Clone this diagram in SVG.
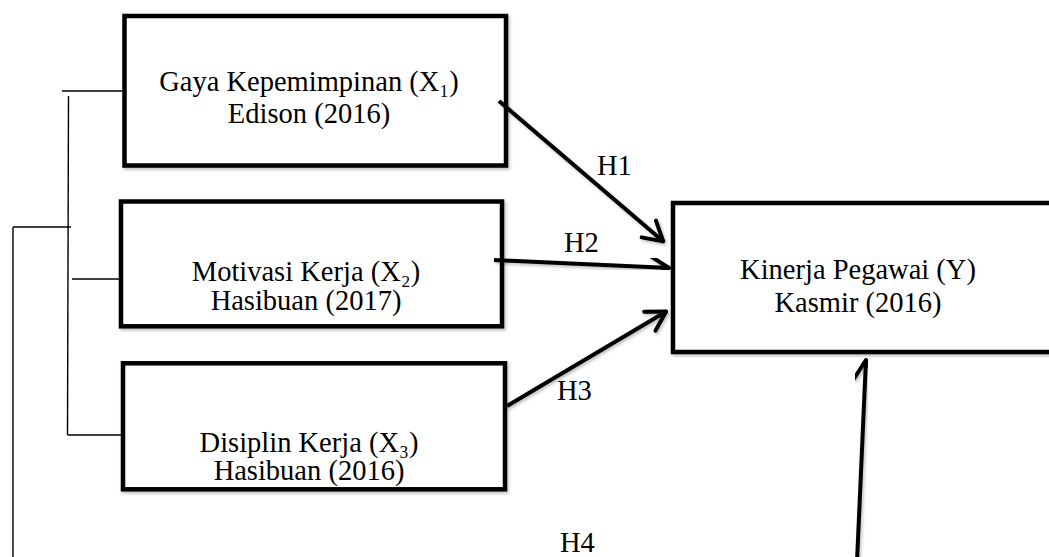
<svg xmlns="http://www.w3.org/2000/svg" width="1049" height="557" viewBox="0 0 1049 557">
<style>
.box{fill:#fff;stroke:#000;stroke-width:4.5;filter:url(#sh)}
.t{font-family:"Liberation Serif","Times New Roman",serif;font-size:28.5px;fill:#000;text-anchor:middle}
.h{font-family:"Liberation Serif","Times New Roman",serif;font-size:28.5px;fill:#000}
.thin{stroke:#000;stroke-width:1.4;fill:none}
.arr{stroke:#000;stroke-width:4;fill:none;marker-end:url(#ah);filter:url(#sh)}
</style>
<defs>
<filter id="sh" x="-20%" y="-20%" width="140%" height="140%">
<feDropShadow dx="1.5" dy="2" stdDeviation="1.5" flood-color="#000" flood-opacity="0.25"/>
</filter>
<marker id="ah" markerUnits="userSpaceOnUse" markerWidth="40" markerHeight="40" viewBox="-30 -20 40 40" refX="1" refY="0" orient="auto" overflow="visible">
<path d="M-19,-11 L0,0 L-19,11" fill="none" stroke="#000" stroke-width="4" stroke-linecap="round" stroke-linejoin="round"/>
</marker>
</defs>
<g id="bracket">
<line class="thin" x1="62" y1="91" x2="122" y2="91"/>
<line class="thin" x1="68.5" y1="96" x2="67.5" y2="435"/>
<line class="thin" x1="13" y1="227" x2="71" y2="227"/>
<line class="thin" x1="13" y1="227" x2="13" y2="557"/>
<line class="thin" x1="72" y1="279" x2="129" y2="279"/>
<line class="thin" x1="67.5" y1="435" x2="122" y2="435"/>
</g>
<g id="x1">
<rect class="box" x="124.5" y="16" width="381.5" height="149.5"/>
<text class="t" x="309" y="91">Gaya Kepemimpinan (X₁)</text>
<text class="t" x="309" y="122.5">Edison (2016)</text>
</g>
<g id="x2">
<rect class="box" x="121" y="201.5" width="381" height="124.8"/>
<text class="t" x="306" y="281">Motivasi Kerja (X₂)</text>
<text class="t" x="306" y="309.5">Hasibuan (2017)</text>
</g>
<g id="x3">
<rect class="box" x="123" y="363.3" width="382" height="126"/>
<text class="t" x="309" y="452">Disiplin Kerja (X₃)</text>
<text class="t" x="309" y="480">Hasibuan (2016)</text>
</g>
<g id="y">
<rect class="box" x="673" y="203" width="400" height="149"/>
<text class="t" x="858" y="278.5">Kinerja Pegawai (Y)</text>
<text class="t" x="858" y="311.5">Kasmir (2016)</text>
</g>
<g id="connectors">
<line class="arr" x1="499" y1="101" x2="664" y2="242"/>
<line class="arr" x1="494" y1="260" x2="670" y2="268"/>
<line class="arr" x1="507" y1="406" x2="667" y2="311"/>
<line class="arr" x1="857" y1="562" x2="866" y2="359"/>
<text class="h" x="597" y="175">H1</text>
<text class="h" x="564" y="252">H2</text>
<text class="h" x="557" y="400">H3</text>
<text class="h" x="560" y="552">H4</text>
</g>
</svg>
